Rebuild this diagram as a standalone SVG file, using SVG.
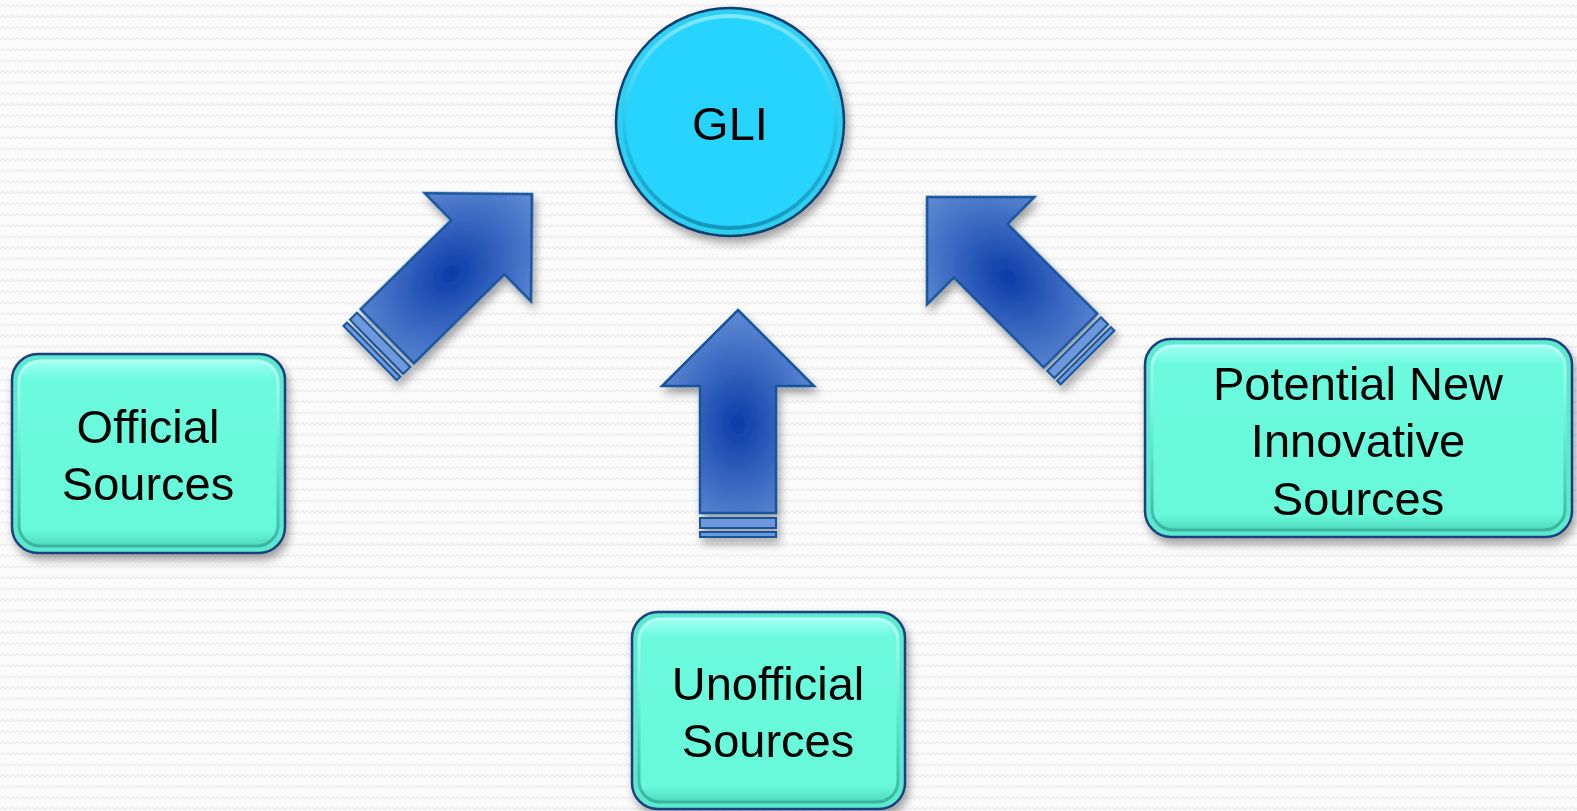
<svg xmlns="http://www.w3.org/2000/svg" width="1577" height="811" viewBox="0 0 1577 811">
<defs>
  <pattern id="bg" width="10" height="11" patternUnits="userSpaceOnUse">
    <rect width="10" height="11" fill="#fbfbfb"/>
    <polyline points="0,7 2.5,4.5 5,7 7.5,4.5 10,7" fill="none" stroke="#ececec" stroke-width="1.1"/>
  </pattern>
  <filter id="shadow" x="-20%" y="-20%" width="140%" height="140%">
    <feDropShadow dx="3" dy="6" stdDeviation="4" flood-color="#000" flood-opacity="0.35"/>
  </filter>
  <radialGradient id="arrowFill" cx="0.5" cy="0.56" r="0.75">
    <stop offset="0" stop-color="#0a3ca8"/>
    <stop offset="1" stop-color="#7ea6e3"/>
  </radialGradient>
  <linearGradient id="boxFill" x1="0" y1="0" x2="0" y2="1">
    <stop offset="0" stop-color="#9ffff2"/>
    <stop offset="0.1" stop-color="#6cfadd"/>
    <stop offset="0.92" stop-color="#66f8d9"/>
    <stop offset="1" stop-color="#4fd9bd"/>
  </linearGradient>
  <linearGradient id="boxRim" x1="0" y1="0" x2="0" y2="1">
    <stop offset="0" stop-color="#b5fff6"/>
    <stop offset="0.5" stop-color="#62eccf"/>
    <stop offset="1" stop-color="#3bb39d"/>
  </linearGradient>
  <linearGradient id="circRim" x1="0" y1="0" x2="0" y2="1">
    <stop offset="0" stop-color="#7fe8ff"/>
    <stop offset="0.5" stop-color="#27c8ee"/>
    <stop offset="1" stop-color="#1795bd"/>
  </linearGradient>
  <g id="arrow">
    <path d="M0,0 L76,76 L38,76 L38,203 L-38,203 L-38,76 L-76,76 Z" fill="url(#arrowFill)" stroke="#17559c" stroke-width="2.5" stroke-linejoin="miter"/>
    <rect x="-38" y="208" width="76" height="10" fill="#6e97dc" stroke="#17559c" stroke-width="2"/>
    <rect x="-38" y="222" width="76" height="5" fill="#6e97dc" stroke="#17559c" stroke-width="2"/>
  </g>
</defs>
<style>
  .lbl { font-family: "Liberation Sans", Arial, sans-serif; font-size: 47px; fill: #000; text-anchor: middle; }
  .box { fill: #5de9cf; stroke: #1a3f7c; stroke-width: 2.5; }
  .boxin { fill: url(#boxFill); stroke: url(#boxRim); stroke-width: 3; }
</style>
<rect width="1577" height="811" fill="url(#bg)"/>

<g id="connectors" filter="url(#shadow)">
  <use href="#arrow" transform="translate(738,310)"/>
  <use href="#arrow" transform="translate(532,194) rotate(45.5)"/>
  <use href="#arrow" transform="translate(927,197) rotate(-45)"/>
</g>

<g id="node-gli" filter="url(#shadow)">
  <circle cx="730" cy="122" r="114" fill="#2fd0f2" stroke="#0f3f70" stroke-width="2.5"/>
  <circle cx="730" cy="122" r="106" fill="#28d4fd" stroke="url(#circRim)" stroke-width="4"/>
  <text class="lbl" x="730" y="140" font-size="46">GLI</text>
</g>

<g id="node-official" filter="url(#shadow)">
  <rect class="box" x="12" y="354" width="273" height="199" rx="26"/>
  <rect class="boxin" x="19" y="361" width="259" height="185" rx="21"/>
  <text class="lbl" x="148" y="443">Official</text>
  <text class="lbl" x="148" y="500">Sources</text>
</g>

<g id="node-unofficial" filter="url(#shadow)">
  <rect class="box" x="632" y="612" width="273" height="197" rx="26"/>
  <rect class="boxin" x="639" y="619" width="259" height="183" rx="21"/>
  <text class="lbl" x="768" y="700">Unofficial</text>
  <text class="lbl" x="768" y="757">Sources</text>
</g>

<g id="node-potential" filter="url(#shadow)">
  <rect class="box" x="1145" y="339" width="427" height="198" rx="26"/>
  <rect class="boxin" x="1152" y="346" width="413" height="184" rx="21"/>
  <text class="lbl" x="1358" y="400">Potential New</text>
  <text class="lbl" x="1358" y="457">Innovative</text>
  <text class="lbl" x="1358" y="515">Sources</text>
</g>
</svg>
